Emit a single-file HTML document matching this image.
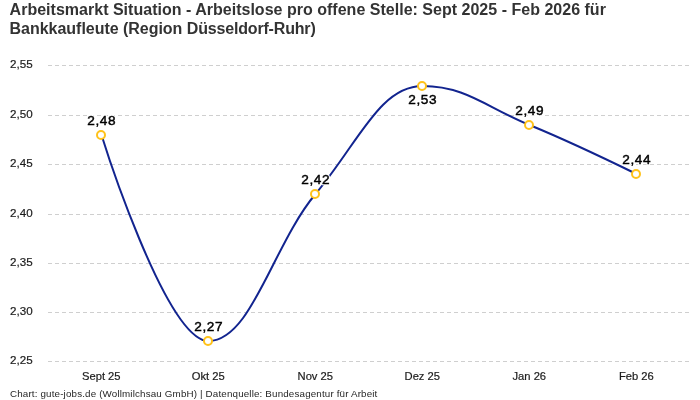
<!DOCTYPE html>
<html><head><meta charset="utf-8"><title>Chart</title>
<style>
html,body{margin:0;padding:0;background:#fff;}
body{width:700px;height:400px;overflow:hidden;position:relative;font-family:"Liberation Sans",sans-serif;}
.title{position:absolute;left:9.6px;top:0px;width:680px;font-weight:bold;font-size:16px;line-height:19px;color:#333;white-space:nowrap;letter-spacing:0px;}
.foot{position:absolute;left:10px;top:387.7px;font-size:9.8px;line-height:12px;color:#262626;white-space:nowrap;letter-spacing:0.155px;}
#wrap{position:absolute;left:0;top:0;width:700px;height:400px;will-change:transform;}
svg{position:absolute;left:0;top:0;}
svg text{font-family:"Liberation Sans",sans-serif;}
.grid line{stroke:#cfcfcf;stroke-width:1;stroke-dasharray:4 3;}
.ylab text{font-size:11.6px;fill:#1c1c1c;stroke:#1c1c1c;stroke-width:0.2px;}
.xlab text{font-size:11.2px;fill:#1c1c1c;stroke:#1c1c1c;stroke-width:0.2px;text-anchor:middle;}
.dl text{font-size:13.6px;letter-spacing:0.6px;fill:#000;text-anchor:middle;}
.dl text.h{stroke:#fff;stroke-width:2.6px;stroke-linejoin:round;fill:#fff;}
.dl text.f{stroke:#000;stroke-width:0.45px;}
.mk circle{fill:#fff;stroke:#ffc21a;stroke-width:2;}
</style></head><body>
<div id="wrap">
<div class="title"><div style="letter-spacing:0.015px">Arbeitsmarkt Situation - Arbeitslose pro offene Stelle: Sept 2025 - Feb 2026 für</div><div style="margin-top:0.3px;letter-spacing:-0.03px">Bankkaufleute (Region <span style="letter-spacing:-0.17px">Düsseldorf-Ruhr)</span></div></div>
<svg width="700" height="400" viewBox="0 0 700 400">
<g class="grid"><line x1="48" x2="690" y1="65.50" y2="65.50"/><line x1="48" x2="690" y1="115.50" y2="115.50"/><line x1="48" x2="690" y1="164.50" y2="164.50"/><line x1="48" x2="690" y1="214.50" y2="214.50"/><line x1="48" x2="690" y1="263.50" y2="263.50"/><line x1="48" x2="690" y1="312.50" y2="312.50"/><line x1="48" x2="690" y1="361.50" y2="361.50"/></g>
<g class="ylab"><text x="10.1" y="68.30">2,55</text><text x="10.1" y="118.30">2,50</text><text x="10.1" y="167.30">2,45</text><text x="10.1" y="217.30">2,40</text><text x="10.1" y="266.30">2,35</text><text x="10.1" y="315.30">2,30</text><text x="10.1" y="364.30">2,25</text></g>
<g class="xlab"><text x="101.3" y="380">Sept 25</text><text x="208.3" y="380">Okt 25</text><text x="315.3" y="380">Nov 25</text><text x="422.3" y="380">Dez 25</text><text x="529.3" y="380">Jan 26</text><text x="636.3" y="380">Feb 26</text></g>
<path d="M101.50,135.00C101.50,135.00 165.70,341.00 208.50,341.00C251.30,341.00 272.70,245.00 315.50,194.00C358.30,143.00 379.70,86.00 422.50,86.00C465.30,86.00 486.70,107.40 529.50,125.00C572.30,142.60 636.50,174.00 636.50,174.00" fill="none" stroke="#12248f" stroke-width="2" stroke-linecap="round" stroke-linejoin="round"/>
<g class="mk"><circle cx="101.00" cy="135.00" r="4"/><circle cx="208.00" cy="341.00" r="4"/><circle cx="315.00" cy="194.00" r="4"/><circle cx="422.00" cy="86.00" r="4"/><circle cx="529.00" cy="125.00" r="4"/><circle cx="636.00" cy="174.00" r="4"/></g>
<g class="dl"><text class="h" x="101.70" y="124.50">2,48</text><text class="f" x="101.70" y="124.50">2,48</text><text class="h" x="208.70" y="330.50">2,27</text><text class="f" x="208.70" y="330.50">2,27</text><text class="h" x="315.70" y="183.50">2,42</text><text class="f" x="315.70" y="183.50">2,42</text><text class="h" x="422.70" y="104.30">2,53</text><text class="f" x="422.70" y="104.30">2,53</text><text class="h" x="529.70" y="114.50">2,49</text><text class="f" x="529.70" y="114.50">2,49</text><text class="h" x="636.70" y="163.50">2,44</text><text class="f" x="636.70" y="163.50">2,44</text></g>
</svg>
<div class="foot">Chart: gute-jobs.de (Wollmilchsau GmbH) | Datenquelle: Bundesagentur für Arbeit</div>
</div>
</body></html>
